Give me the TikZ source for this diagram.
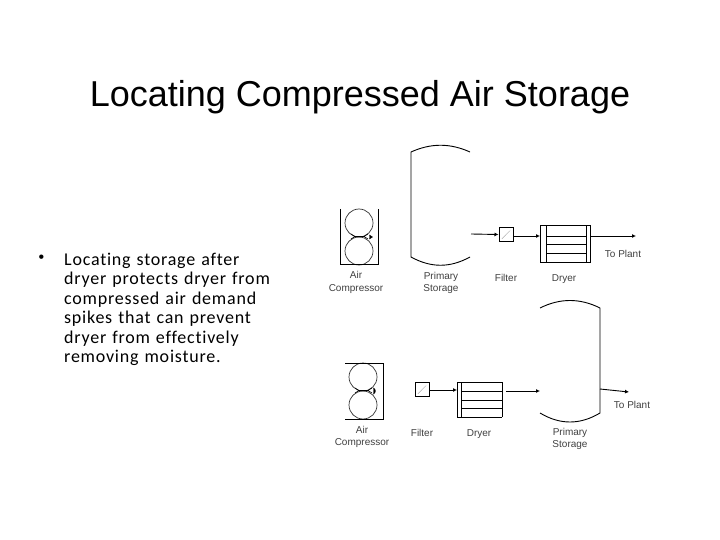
\documentclass[tikz,border=0pt]{standalone}
\usepackage{fontspec}
\setmainfont{Liberation Sans}
\newfontfamily\bodyfont[LetterSpace=4.3,Ligatures=NoCommon]{Carlito}
\usetikzlibrary{arrows.meta,positioning}

\begin{document}
\begin{tikzpicture}[x=1pt,y=-1pt,>=Latex, every node/.style={font=\small}]
\useasboundingbox (0,0) rectangle (720,540);
\tikzstyle{lab}=[inner sep=0pt, align=center, text=black!75, font=\fontsize{10}{12.3}\selectfont]
\tikzstyle{pipe}=[draw, line width=0.9pt]
\tikzstyle{flow}=[->, line width=0.9pt, >={Latex[length=4pt,width=4pt]}]
\tikzstyle{wheel}=[draw, circle, inner sep=0pt, minimum size=28pt, line width=0.7pt, black!80]
\tikzstyle{filt}=[draw, inner sep=0pt, minimum size=14pt, line width=1pt]
\node[inner sep=0pt, font=\fontsize{36}{43}\selectfont] (title) at (360,97) {Locating Compressed Air Storage};
\node[inner sep=0pt, anchor=north west, align=left, text width=225pt, font=\bodyfont\fontsize{18}{19.5}\selectfont] (body) at (64,252.5) {Locating storage after\\dryer protects dryer from\\compressed air demand\\spikes that can prevent\\dryer from effectively\\removing moisture.};
\node[inner sep=0pt, font=\fontsize{16}{19}\selectfont] (dot) at (41.5,258.5) {\textbullet};
% top system
\node[wheel] (whA) at (359,223) {};
\node[wheel] (whB) at (359,251) {};
\coordinate (cpA) at (340,209);
\coordinate (cpB) at (378,209);
\draw[pipe] (cpA) |- (378,264) -- (cpB);
\draw[line width=0.6pt] (351,234) -- (355,236.5) -- (351,239) (355,236.5) -- (364,236.5) (368,234) -- (364,236.5) -- (368,239);
\draw[fill=black] (369.5,235) -- (372.5,237) -- (369.5,239) -- cycle;
\coordinate (tkA) at (470,152);
\coordinate (tkB) at (411,152);
\coordinate (tkC) at (411,257);
\coordinate (tkD) at (470,257);
\draw[pipe] (tkA) .. controls (450,143) and (431,143) .. (tkB) -- (tkC) .. controls (431,268) and (450,268) .. (tkD);
\node[filt] (filA) at (506,234.5) {};
\draw[densely dotted] (filA.center) +(-4,4) -- +(4,-4);
\node[draw, line width=1pt, minimum width=50pt, minimum height=36pt, inner sep=0pt] (dryA) at (565,244) {};
\draw[pipe] (546,226) -- (546,262) (586,226) -- (586,262) (546,236) -- (586,236) (546,244.5) -- (586,244.5) (546,253) -- (586,253);
\coordinate (tkOutA) at (471,234);
\coordinate (dryInA) at (540,236);
\coordinate (plantA) at (636,236);
\draw[flow] (tkOutA) -- (filA.west);
\draw[flow] (filA.east |- dryInA) -- (dryInA);
\draw[flow] (dryA.east |- plantA) -- (plantA);
\node[lab] (cpLabA) at (356,282.5) {Air\\Compressor};
\node[lab] (tkLabA) at (441,283) {Primary\\Storage};
\node[lab] (filLabA) at (506,278) {Filter};
\node[lab] (dryLabA) at (564,279) {Dryer};
\node[lab] (plantLabA) at (623,254) {To Plant};
% bottom system
\node[wheel] (whC) at (363,377) {};
\node[wheel] (whD) at (363,405) {};
\coordinate (cpC) at (345,363);
\coordinate (cpD) at (383,363);
\draw[pipe] (345,419) -- (383,419) -- (cpD) -- (cpC);
\draw[line width=0.6pt] (355,388) -- (359,390.5) -- (355,393) (359,390.5) -- (368,390.5) (372,388) -- (368,390.5) -- (372,393);
\draw[fill=black] (373.5,388) .. controls (376,389) and (376,393) .. (373.5,394) -- cycle;
\coordinate (tkE) at (540,308);
\coordinate (tkF) at (600,308);
\coordinate (tkG) at (600,413);
\coordinate (tkH) at (540,413);
\draw[pipe] (tkE) .. controls (560,298) and (580,298) .. (tkF) -- (tkG) .. controls (580,425) and (560,425) .. (tkH);
\node[filt] (filB) at (422,389.5) {};
\draw[densely dotted] (filB.center) +(-4,4) -- +(4,-4);
\draw[line width=1pt] (502,382) -- (457,382) -- (457,417) -- (502,417);
\draw[pipe] (502,382) -- (502,417) (461,382) -- (461,417) (461,391) -- (502,391) (461,400) -- (502,400) (461,408.5) -- (502,408.5);
\coordinate (dryInB) at (457,390);
\coordinate (dryOutB) at (506,391);
\coordinate (tkInB) at (540,391);
\coordinate (tkOutB) at (600,389);
\coordinate (plantB) at (629,392);
\draw[flow] (filB.east |- dryInB) -- (dryInB);
\draw[flow] (dryOutB) -- (tkInB);
\draw[flow] (tkOutB) -- (plantB);
\node[lab] (cpLabB) at (362,437) {Air\\Compressor};
\node[lab] (tkLabB) at (570,439) {Primary\\Storage};
\node[lab] (filLabB) at (422,433) {Filter};
\node[lab] (dryLabB) at (479,434) {Dryer};
\node[lab] (plantLabB) at (632,405) {To Plant};
\end{tikzpicture}
\end{document}
